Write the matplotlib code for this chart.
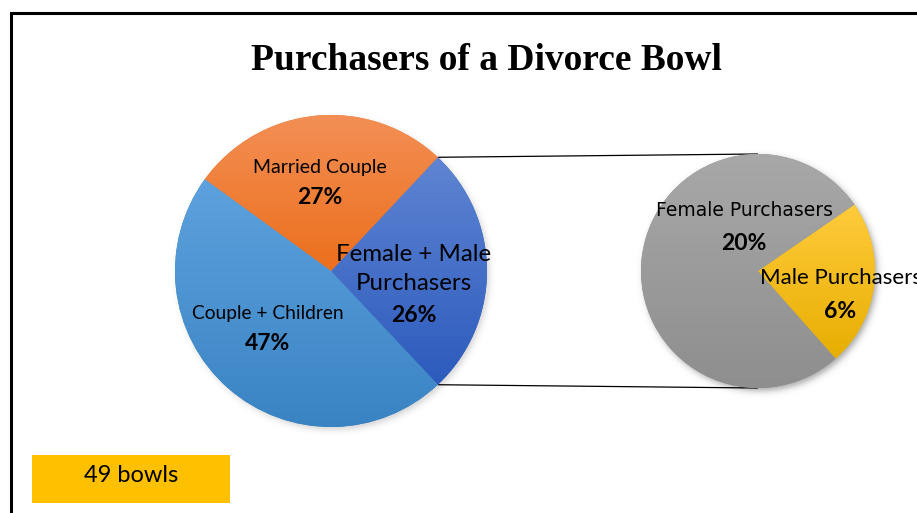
import numpy as np
import matplotlib
matplotlib.use("Agg")
import matplotlib.pyplot as plt
from matplotlib.colors import LinearSegmentedColormap

# ---- data -------------------------------------------------------------
title = "Purchasers of a Divorce Bowl"
main_labels = ["Female + Male\nPurchasers", "Married Couple", "Couple + Children"]
main_values = [26, 27, 47]
sub_labels = ["Male Purchasers", "Female Purchasers"]
sub_values = [6, 20]
total_note = "49 bowls"

# ---- styling ----------------------------------------------------------
W, H = 917, 513
main_grad = [("#5F84D2", "#2C5BBD"), ("#F38F55", "#EC6F1C"), ("#5DA2DE", "#3A83C3")]
sub_grad = [("#FFCB3C", "#E7AE00"), ("#A8A8A8", "#8E8E8E")]
sans = ["Lato", "DejaVu Sans"]

fig = plt.figure(figsize=(W / 100, H / 100), dpi=100)
ax = fig.add_axes([0, 0, 1, 1])
ax.set_xlim(0, W)
ax.set_ylim(0, H)
ax.axis("off")


def py(y):
    """pixel row (top-down) -> data y"""
    return H - y


def soft_shadow(cx, cy, r, dx=2.5, dy=-3.0, width=4.0, strength=0.35):
    pad = r + 20
    xs = np.linspace(cx - pad, cx + pad, 400)
    ys = np.linspace(cy - pad, cy + pad, 400)
    X, Y = np.meshgrid(xs, ys)
    d = np.hypot(X - (cx + dx), Y - (cy + dy))
    a = strength * 0.5 * (1 - np.tanh((d - r) / width))
    img = np.zeros(X.shape + (4,))
    img[..., 3] = a
    ax.imshow(img, extent=(xs[0], xs[-1], ys[0], ys[-1]), origin="lower",
              zorder=1, interpolation="bilinear")


def shade(wedges, grads):
    for w, (top, bot) in zip(wedges, grads):
        cmap = LinearSegmentedColormap.from_list("g", [bot, top])
        bb = w.get_path().get_extents(w.get_patch_transform())
        grad = np.linspace(0, 1, 256).reshape(-1, 1)
        im = ax.imshow(grad, cmap=cmap, extent=(bb.x0, bb.x1, bb.y0, bb.y1),
                       origin="lower", aspect="auto", zorder=w.get_zorder() + 0.1,
                       interpolation="bilinear")
        im.set_clip_path(w)


# main pie: split slice centred on the right-hand side
c1, r1 = (331, py(271)), 156
split_half = main_values[0] / sum(main_values) * 180
w1, _ = ax.pie(main_values, colors=[g[1] for g in main_grad], startangle=-split_half,
               counterclock=True, center=c1, radius=r1, frame=True,
               wedgeprops=dict(linewidth=0, zorder=3))
soft_shadow(c1[0], c1[1], r1, strength=0.18)
shade(w1, main_grad)

# secondary pie
c2, r2 = (758, py(271)), 117
w2, _ = ax.pie(sub_values, colors=[g[1] for g in sub_grad], startangle=-48.5,
               counterclock=True, center=c2, radius=r2, frame=True,
               wedgeprops=dict(linewidth=0, zorder=3))
soft_shadow(c2[0], c2[1], r2)
shade(w2, sub_grad)

ax.set_xlim(0, W)
ax.set_ylim(0, H)
ax.axis("off")

# connector lines from the split slice to the secondary pie
th = np.deg2rad(split_half)
for s in (1, -1):
    x0 = c1[0] + r1 * np.cos(th)
    y0 = c1[1] + s * r1 * np.sin(th)
    ax.plot([x0, c2[0]], [y0, c2[1] + s * r2], color="black", lw=0.9, zorder=2,
            solid_capstyle="butt")

# labels
pct = lambda v: f"{v}%"
ax.text(414, py(269), main_labels[0], ha="center", va="center", fontsize=17.3,
        family=sans, linespacing=1.42, zorder=6)
ax.text(414, py(316), pct(main_values[0]), ha="center", va="center", fontsize=16.5,
        family=sans, weight="bold", zorder=6)
ax.text(320, py(168), main_labels[1], ha="center", va="center", fontsize=14,
        family=sans, zorder=6)
ax.text(320, py(198), pct(main_values[1]), ha="center", va="center", fontsize=16.5,
        family=sans, weight="bold", zorder=6)
ax.text(268, py(313), main_labels[2], ha="center", va="center", fontsize=13.8,
        family=sans, zorder=6)
ax.text(268, py(343), pct(main_values[2]), ha="center", va="center", fontsize=16.5,
        family=sans, weight="bold", zorder=6)

ax.text(744, py(211), sub_labels[1], ha="center", va="center", fontsize=13.5,
        family="DejaVu Sans", zorder=6)
ax.text(744, py(243), pct(sub_values[1]), ha="center", va="center", fontsize=16.5,
        family=sans, weight="bold", zorder=6)
ax.text(760, py(278), sub_labels[0], ha="left", va="center", fontsize=16,
        family=sans, zorder=6, clip_on=False)
ax.text(840, py(311), pct(sub_values[0]), ha="center", va="center", fontsize=16.5,
        family=sans, weight="bold", zorder=6)

# title
ax.text(486, py(60), title, ha="center", va="center", fontsize=27,
        family=["Liberation Serif", "DejaVu Serif"], weight="bold", zorder=6)

# note box
ax.add_patch(plt.Rectangle((32, py(503)), 198, 48, facecolor="#FFC000",
                           edgecolor="none", zorder=4))
ax.text(131, py(476), total_note, ha="center", va="center", fontsize=17,
        family=sans, zorder=6)

# frame
ax.plot([11, 11, W + 5], [-5, py(13), py(13)], color="black", lw=2.2, zorder=7,
        solid_joinstyle="miter")

fig.savefig("out.png", dpi=100)
